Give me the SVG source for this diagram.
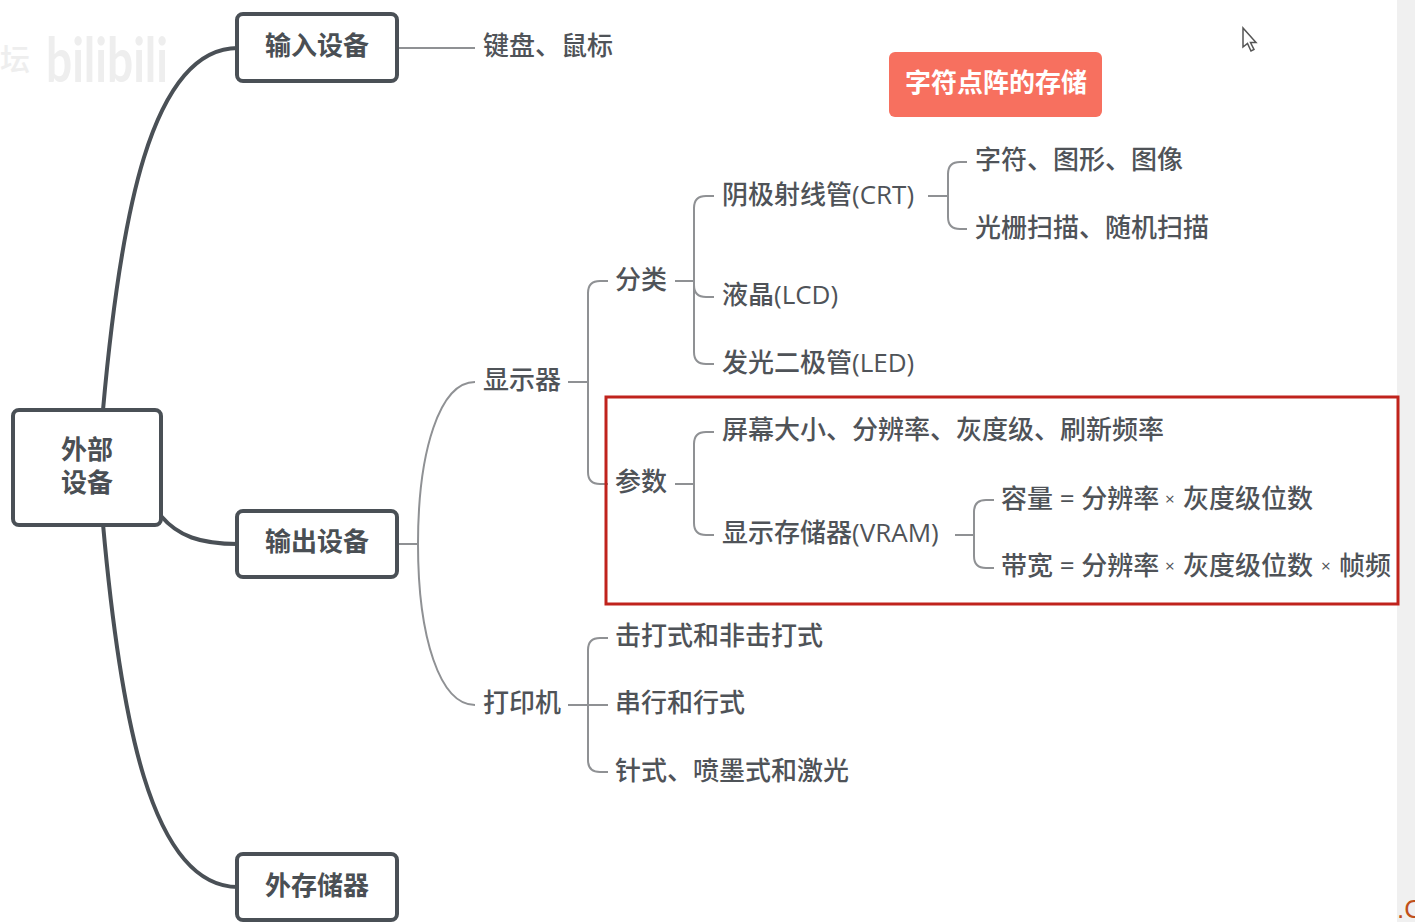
<svg xmlns="http://www.w3.org/2000/svg" width="1415" height="922" viewBox="0 0 1415 922">
<style>
text{font-family:"Open Sans","Noto Sans CJK SC",sans-serif;fill:#4f5358;font-size:26px;dominant-baseline:central;font-weight:500}
.c{text-anchor:middle;font-weight:700;fill:#4a4f54}
.box{fill:#fff;stroke:#4a5056;stroke-width:4}
.thick{fill:none;stroke:#4a5056;stroke-width:4}
.thin{fill:none;stroke:#8f9194;stroke-width:2}
</style>
<rect x="1397" y="0" width="18" height="922" fill="#f0f0f0"/>
<g id="watermark"><text x="46" y="58" style="font-size:62px;fill:#eeeeee;font-weight:700;font-family:'Lato',sans-serif" textLength="122" lengthAdjust="spacingAndGlyphs">bilibili</text><text x="0" y="58" style="font-size:30px;fill:#eeeeee">坛</text></g>
<g id="connectors">
<path class="thick" d="M103 410C120 220 150 48 238 48"/>
<path class="thick" d="M103 524C120 714 150 887 238 887"/>
<path class="thick" d="M161 516C178 536 200 544 238 544"/>
<path class="thin" d="M397 48H475"/>
<path class="thin" d="M397 544H418"/>
<path class="thin" d="M475 382C440 382 418 450 418 544C418 638 440 705 475 705"/>
<path class="thin" d="M568 382H588"/>
<path class="thin" d="M608 281H600Q588 281 588 293V472Q588 484 600 484H608"/>
<path class="thin" d="M675 281H694"/>
<path class="thin" d="M714 196H706Q694 196 694 208V352Q694 364 706 364H714"/>
<path class="thin" d="M694 285Q694 297 706 297H714"/>
<path class="thin" d="M928 196H948"/>
<path class="thin" d="M967 162H960Q948 162 948 174V217Q948 229 960 229H967"/>
<path class="thin" d="M675 484H694"/>
<path class="thin" d="M714 432H706Q694 432 694 444V523Q694 535 706 535H714"/>
<path class="thin" d="M955 535H974"/>
<path class="thin" d="M994 500H986Q974 500 974 512V556Q974 568 986 568H994"/>
<path class="thin" d="M568 705H608"/>
<path class="thin" d="M608 638H600Q588 638 588 650V760Q588 772 600 772H608"/>
</g>
<g id="n-root"><rect class="box" x="13" y="410" width="148" height="115" rx="6"/><text class="c" x="87" y="449"><tspan x="87" y="449">外部</tspan><tspan x="87" y="482">设备</tspan></text></g>
<g id="n-input"><rect class="box" x="237" y="14" width="160" height="67" rx="6"/><text class="c" x="317" y="45">输入设备</text></g>
<g id="n-output"><rect class="box" x="237" y="511" width="160" height="66" rx="6"/><text class="c" x="317" y="541">输出设备</text></g>
<g id="n-storage"><rect class="box" x="237" y="854" width="160" height="66" rx="6"/><text class="c" x="317" y="885">外存储器</text></g>
<g id="n-keyboard"><text x="483" y="45">键盘、鼠标</text></g>
<g id="n-title"><rect x="889" y="52" width="213" height="65" rx="6" fill="#f7705f"/><text class="c" x="996" y="82" style="fill:#fff">字符点阵的存储</text></g>
<g id="n-display"><text x="483" y="379">显示器</text></g>
<g id="n-class"><text x="615" y="279">分类</text></g>
<g id="n-crt"><text x="722" y="194">阴极射线管(CRT)</text></g>
<g id="n-crt1"><text x="975" y="159">字符、图形、图像</text></g>
<g id="n-crt2"><text x="975" y="227">光栅扫描、随机扫描</text></g>
<g id="n-lcd"><text x="722" y="294">液晶(LCD)</text></g>
<g id="n-led"><text x="722" y="362">发光二极管(LED)</text></g>
<g id="n-param"><text x="615" y="481">参数</text></g>
<g id="n-p1"><text x="722" y="429">屏幕大小、分辨率、灰度级、刷新频率</text></g>
<g id="n-vram"><text x="722" y="532">显示存储器(VRAM)</text></g>
<g id="n-v1"><text x="1001" y="498">容量 = 分辨率 <tspan style="font-size:17px" x="1165">×</tspan><tspan x="1183">灰度级位数</tspan></text></g>
<g id="n-v2"><text x="1001" y="565">带宽 = 分辨率 <tspan style="font-size:17px" x="1165">×</tspan><tspan x="1183">灰度级位数</tspan><tspan style="font-size:17px" x="1321">×</tspan><tspan x="1339">帧频</tspan></text></g>
<g id="n-printer"><text x="483" y="702">打印机</text></g>
<g id="n-pr1"><text x="615" y="635">击打式和非击打式</text></g>
<g id="n-pr2"><text x="615" y="702">串行和行式</text></g>
<g id="n-pr3"><text x="615" y="770">针式、喷墨式和激光</text></g>
<rect id="highlight" x="606" y="397" width="792" height="207" fill="none" stroke="#c0231c" stroke-width="3"/>
<path id="cursor" d="M1243 28V47L1247.500 43.500L1251 51L1254 49.500L1250.500 42.500H1256Z" fill="#fff" stroke="#555" stroke-width="1.500"/>
<text x="1397" y="909" style="fill:#c0501a;font-size:26px;font-family:'Liberation Sans',sans-serif;font-weight:400">.C</text>
</svg>
